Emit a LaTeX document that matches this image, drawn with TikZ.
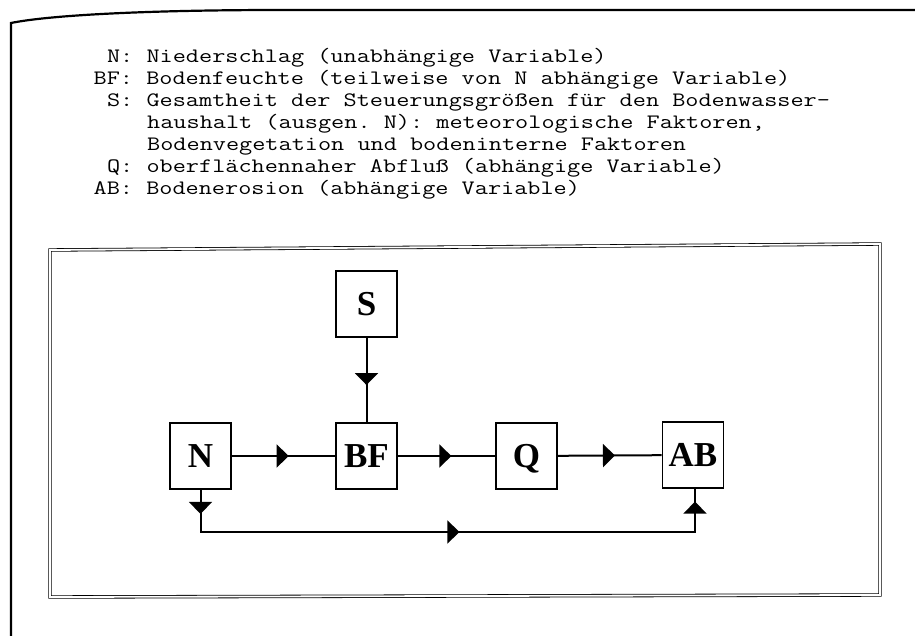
\documentclass[tikz,border=0pt]{standalone}
\usepackage{fontspec}
\setmainfont{Liberation Serif}
\usetikzlibrary{arrows.meta,decorations.markings}
\newcommand{\legtxt}[1]{\scalebox{1.245}[1]{#1}}
\begin{document}
\begin{tikzpicture}[x=1pt,y=-1pt,
  box/.style={draw,line width=1.8pt,minimum width=61pt,minimum height=66pt,inner sep=0pt,
    text height=23.2pt,text depth=0pt,
    font=\fontsize{35}{35}\selectfont\bfseries},
  conn/.style={line width=2pt},
  tri/.tip={Triangle[length=12pt,width=23pt]},
  midarrow/.style={postaction={decorate},decoration={markings,
    mark=at position #1 with {\arrow{tri}}}},
  legend/.style={anchor=base west,inner sep=0pt,
    font=\ttfamily\fontsize{20.5}{20.5}\selectfont\frenchspacing}
]
\useasboundingbox (0,0) rectangle (915,636);
% outer sheet
\draw[line width=2.2pt] (915,10) -- (280,10) .. controls (150,10) and (50,15) .. (11,23) -- (11,640);
% legend
\node[legend] (l1) at (106.9,63) {\legtxt{N: Niederschlag (unabhängige Variable)}};
\node[legend] (l2) at (93.5,85) {\legtxt{BF: Bodenfeuchte (teilweise von N abhängige Variable)}};
\node[legend] (l3) at (106.9,107) {\legtxt{S: Gesamtheit der Steuerungsgrößen für den Bodenwasser-}};
\node[legend] (l4) at (147,129) {\legtxt{haushalt (ausgen. N): meteorologische Faktoren,}};
\node[legend] (l5) at (147,151) {\legtxt{Bodenvegetation und bodeninterne Faktoren}};
\node[legend] (l6) at (106.9,173) {\legtxt{Q: oberflächennaher Abfluß (abhängige Variable)}};
\node[legend] (l7) at (93.5,195) {\legtxt{AB: Bodenerosion (abhängige Variable)}};
% inner frame
\draw[double,line width=0.8pt,double distance=1.8pt] (50,250) -- (880,244) -- (880,595) -- (50,597) -- cycle;
% boxes
\node[box] (S) at (366.5,304) {S};
\node[box] (N) at (200.5,456) {N};
\node[box] (BF) at (366.5,456) {BF};
\node[box] (Q) at (526.5,456) {Q};
\node[box] (AB) at (693,455) {AB};
% connectors
\draw[conn,midarrow=0.56] (S) -- (BF);
\draw[conn,midarrow=0.55] (N) -- (BF);
\draw[conn,midarrow=0.55] (BF) -- (Q);
\draw[conn,midarrow=0.55] (Q) -- (AB);
\coordinate (c1) at (200.5,532);
\coordinate (c2) at (695,532);
\draw[conn,postaction={decorate},decoration={markings,
    mark=at position 24pt with {\arrow{tri}},
    mark=at position 301pt with {\arrow{tri}},
    mark=at position 567pt with {\arrow{tri}}}]
  (N.south) -- (c1) -- (c2) -- (c2 |- AB.south);
\end{tikzpicture}
\end{document}
